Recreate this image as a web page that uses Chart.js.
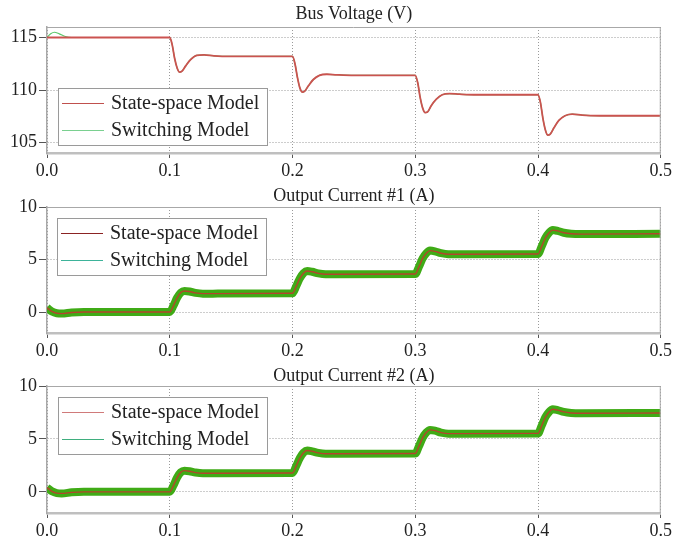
<!DOCTYPE html>
<html>
<head>
<meta charset="utf-8">
<script src="https://cdn.jsdelivr.net/npm/chart.js@4"></script>
<style>
  html, body { margin: 0; padding: 0; background: #fff; }
  #wrap { position: relative; width: 674px; height: 544px; }
  canvas { position: absolute; left: 0; }
</style>
</head>
<body>
<div id="wrap">
  <canvas id="bus" width="674" height="180" style="top:0px"></canvas>
  <canvas id="out1" width="674" height="180" style="top:180px"></canvas>
  <canvas id="out2" width="674" height="184" style="top:360px"></canvas>
</div>
<script>
// ---- tick labels ----
const timeTicks = [0, 0.1, 0.2, 0.3, 0.4, 0.5];
const voltTicks = [105, 110, 115];
const currentTicks = [0, 5, 10];

// ---- bus voltage (V) ----
const voltTime = [0, 0.1, 0.102, 0.104, 0.106, 0.108, 0.110, 0.113, 0.117, 0.122, 0.128, 0.136, 0.15,
  0.2, 0.202, 0.204, 0.206, 0.208, 0.210, 0.213, 0.217, 0.222, 0.228, 0.236, 0.25,
  0.3, 0.302, 0.304, 0.306, 0.308, 0.310, 0.313, 0.317, 0.322, 0.328, 0.336, 0.35,
  0.4, 0.402, 0.404, 0.406, 0.408, 0.410, 0.413, 0.417, 0.422, 0.428, 0.436, 0.45, 0.5];
const voltStateSpace = [115, 115, 114.3, 113.0, 112.1, 111.7, 111.8, 112.3, 112.9, 113.3, 113.35, 113.25, 113.2,
  113.2, 112.5, 111.2, 110.2, 109.8, 109.9, 110.4, 111.0, 111.4, 111.5, 111.45, 111.4,
  111.4, 110.7, 109.3, 108.3, 107.85, 107.9, 108.5, 109.1, 109.55, 109.65, 109.6, 109.55,
  109.55, 108.8, 107.3, 106.2, 105.7, 105.8, 106.4, 107.1, 107.55, 107.7, 107.6, 107.55, 107.55];
const voltSwitchTime = [0, 0.003, 0.006, 0.010, 0.015, 0.020, 0.1, 0.102, 0.104, 0.106, 0.108, 0.110, 0.113, 0.117, 0.122, 0.128, 0.136, 0.15,
  0.2, 0.202, 0.204, 0.206, 0.208, 0.210, 0.213, 0.217, 0.222, 0.228, 0.236, 0.25,
  0.3, 0.302, 0.304, 0.306, 0.308, 0.310, 0.313, 0.317, 0.322, 0.328, 0.336, 0.35,
  0.4, 0.402, 0.404, 0.406, 0.408, 0.410, 0.413, 0.417, 0.422, 0.428, 0.436, 0.45, 0.5];
const voltSwitching = [115, 115.35, 115.5, 115.35, 115.1, 115.0, 115, 114.3, 113.0, 112.1, 111.7, 111.8, 112.3, 112.9, 113.3, 113.35, 113.25, 113.2,
  113.2, 112.5, 111.2, 110.2, 109.8, 109.9, 110.4, 111.0, 111.4, 111.5, 111.45, 111.4,
  111.4, 110.7, 109.3, 108.3, 107.85, 107.9, 108.5, 109.1, 109.55, 109.65, 109.6, 109.55,
  109.55, 108.8, 107.3, 106.2, 105.7, 105.8, 106.4, 107.1, 107.55, 107.7, 107.6, 107.55, 107.55];

// ---- output currents (A) ----
const curTime = [0, 0.004, 0.008, 0.012, 0.020, 0.030,
  0.1, 0.103, 0.106, 0.109, 0.112, 0.116, 0.121, 0.127, 0.135,
  0.2, 0.203, 0.206, 0.209, 0.212, 0.216, 0.221, 0.227, 0.235,
  0.3, 0.303, 0.306, 0.309, 0.312, 0.316, 0.321, 0.327, 0.335,
  0.4, 0.403, 0.406, 0.409, 0.412, 0.416, 0.421, 0.427, 0.435, 0.5];
const current1 = [0.4, 0.05, -0.12, -0.15, -0.05, 0,
  0, 0.6, 1.35, 1.85, 2.0, 1.95, 1.82, 1.75, 1.75,
  1.78, 2.45, 3.2, 3.7, 3.9, 3.83, 3.68, 3.6, 3.6,
  3.62, 4.3, 5.1, 5.6, 5.85, 5.78, 5.6, 5.5, 5.5,
  5.52, 6.25, 7.05, 7.55, 7.8, 7.72, 7.55, 7.45, 7.42, 7.45];
const current2 = [0.4, 0.05, -0.12, -0.15, -0.05, 0,
  0, 0.6, 1.35, 1.85, 2.0, 1.95, 1.82, 1.75, 1.75,
  1.78, 2.45, 3.2, 3.7, 3.9, 3.83, 3.68, 3.6, 3.6,
  3.62, 4.3, 5.1, 5.6, 5.85, 5.78, 5.6, 5.5, 5.5,
  5.52, 6.25, 7.05, 7.55, 7.8, 7.72, 7.55, 7.45, 7.42, 7.45];

const SERIF = "'Liberation Serif', 'Times New Roman', serif";
Chart.defaults.font.family = SERIF;

const toPoints = (xs, ys) => xs.map((x, i) => ({ x, y: ys[i] }));

// panel title centred over the plot area
const panelTitlePlugin = {
  id: 'panelTitle',
  afterDraw(chart, args, opts) {
    const { ctx, chartArea: a } = chart;
    ctx.save();
    ctx.font = '18px ' + SERIF;
    ctx.fillStyle = '#222';
    ctx.textAlign = 'center';
    ctx.textBaseline = 'middle';
    ctx.fillText(opts.text, (a.left + a.right) / 2, opts.y);
    ctx.restore();
  }
};

// top and right edges of the plot frame
const framePlugin = {
  id: 'frame',
  afterDatasetsDraw(chart) {
    const { ctx, chartArea: a } = chart;
    ctx.save();
    ctx.strokeStyle = '#a8a8a8';
    ctx.lineWidth = 1;
    ctx.beginPath();
    ctx.moveTo(a.left, a.top + 0.5);
    ctx.lineTo(a.right - 0.5, a.top + 0.5);
    ctx.lineTo(a.right - 0.5, a.bottom);
    ctx.stroke();
    ctx.restore();
  }
};

// boxed legend floating inside the plot area
const legendBoxPlugin = {
  id: 'legendBox',
  afterDraw(chart, args, opts) {
    const { ctx, chartArea } = chart;
    const x0 = Math.round(chartArea.left + opts.dx);
    const y0 = Math.round(chartArea.top + opts.dy);
    ctx.save();
    ctx.font = '20px ' + SERIF;
    const items = chart.data.datasets.map(ds => ({ label: ds.label, color: ds.legendColor }));
    const tw = Math.max(...items.map(it => ctx.measureText(it.label).width));
    const w = Math.round(53 + tw + 8), h = 57;
    ctx.fillStyle = '#fff';
    ctx.fillRect(x0, y0, w, h);
    ctx.strokeStyle = '#9a9a9a';
    ctx.lineWidth = 1;
    ctx.strokeRect(x0 + 0.5, y0 + 0.5, w, h);
    items.forEach((it, i) => {
      const cy = y0 + 15 + i * 27;
      ctx.strokeStyle = it.color;
      ctx.lineWidth = 1.2;
      ctx.beginPath();
      ctx.moveTo(x0 + 4, cy + 0.5);
      ctx.lineTo(x0 + 46, cy + 0.5);
      ctx.stroke();
      ctx.fillStyle = '#222';
      ctx.textBaseline = 'middle';
      ctx.textAlign = 'left';
      ctx.fillText(it.label, x0 + 53, cy + 1);
    });
    ctx.restore();
  }
};

function makePanel(id, p) {
  return new Chart(document.getElementById(id), {
    type: 'line',
    data: { datasets: p.datasets },
    options: {
      responsive: false,
      animation: false,
      devicePixelRatio: 1,
      layout: { padding: { left: 0, right: 13, top: p.titleHeight, bottom: 0 } },
      elements: { point: { radius: 0 } },
      plugins: {
        legend: { display: false },
        tooltip: { enabled: false },
        title: { display: false },
        panelTitle: { text: p.title, y: p.titleY },
        legendBox: { dx: p.legendDx, dy: p.legendDy }
      },
      scales: {
        x: {
          type: 'linear', min: 0, max: 0.5,
          afterBuildTicks: s => { s.ticks = timeTicks.map(v => ({ value: v })); },
          afterFit: s => { s.height = p.xAxisHeight; },
          ticks: {
            callback: v => Number(v).toFixed(1), color: '#222',
            font: { size: 18, family: SERIF }, padding: 2, maxRotation: 0, autoSkip: false
          },
          grid: { color: '#9a9a9a', lineWidth: 1, tickLength: 5, tickColor: '#555', tickWidth: 1 },
          border: { color: '#bfbfbf', width: 2.5, dash: [1, 2] }
        },
        y: {
          type: 'linear', min: p.yMin, max: p.yMax,
          afterBuildTicks: s => { s.ticks = p.yTicks.map(v => ({ value: v })); },
          afterFit: s => { s.width = 47; },
          ticks: { color: '#222', font: { size: 18, family: SERIF }, padding: 2 },
          grid: { color: '#9a9a9a', lineWidth: 1, tickLength: 8, tickColor: '#555', tickWidth: 1 },
          border: { color: '#a8a8a8', width: 1.5, dash: [1, 2] }
        }
      }
    },
    plugins: [framePlugin, legendBoxPlugin, panelTitlePlugin]
  });
}

const lineBase = { pointRadius: 0, fill: false, cubicInterpolationMode: 'monotone', borderJoinStyle: 'round' };

makePanel('bus', {
  title: 'Bus Voltage (V)', titleHeight: 27, titleY: 14, xAxisHeight: 27,
  yMin: 104, yMax: 116, yTicks: voltTicks, legendDx: 11, legendDy: 61,
  datasets: [
    { ...lineBase, label: 'State-space Model', data: toPoints(voltTime, voltStateSpace),
      borderColor: '#cb5350', borderWidth: 1.8, legendColor: '#c0504d' },
    { ...lineBase, label: 'Switching Model', data: toPoints(voltSwitchTime, voltSwitching),
      borderColor: '#5cc86a', borderWidth: 1.2, legendColor: '#7ad090' }
  ]
});

makePanel('out1', {
  title: 'Output Current #1 (A)', titleHeight: 27, titleY: 16.5, xAxisHeight: 27,
  yMin: -2, yMax: 10, yTicks: currentTicks, legendDx: 10, legendDy: 11,
  datasets: [
    { ...lineBase, label: 'State-space Model', data: toPoints(curTime, current1),
      borderColor: '#b4452c', borderWidth: 1.4, legendColor: '#8b2323' },
    { ...lineBase, label: 'Switching Model', data: toPoints(curTime, current1),
      borderColor: '#3fab16', borderWidth: 8, legendColor: '#3db39a' }
  ]
});

makePanel('out2', {
  title: 'Output Current #2 (A)', titleHeight: 26, titleY: 16.5, xAxisHeight: 31,
  yMin: -2, yMax: 10, yTicks: currentTicks, legendDx: 11, legendDy: 11,
  datasets: [
    { ...lineBase, label: 'State-space Model', data: toPoints(curTime, current2),
      borderColor: '#b4452c', borderWidth: 1.4, legendColor: '#d07a7a' },
    { ...lineBase, label: 'Switching Model', data: toPoints(curTime, current2),
      borderColor: '#3fab16', borderWidth: 8, legendColor: '#3fae7e' }
  ]
});
</script>
</body>
</html>
